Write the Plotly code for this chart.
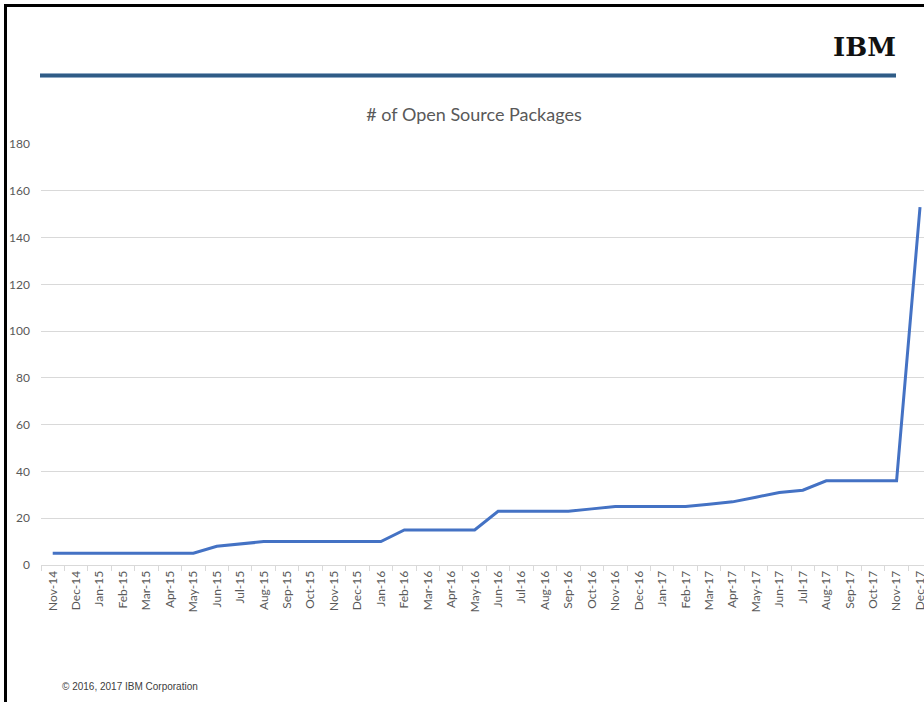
import plotly.graph_objects as go

months = ["Nov-14", "Dec-14", "Jan-15", "Feb-15", "Mar-15", "Apr-15", "May-15", "Jun-15",
          "Jul-15", "Aug-15", "Sep-15", "Oct-15", "Nov-15", "Dec-15", "Jan-16", "Feb-16",
          "Mar-16", "Apr-16", "May-16", "Jun-16", "Jul-16", "Aug-16", "Sep-16", "Oct-16",
          "Nov-16", "Dec-16", "Jan-17", "Feb-17", "Mar-17", "Apr-17", "May-17", "Jun-17",
          "Jul-17", "Aug-17", "Sep-17", "Oct-17", "Nov-17", "Dec-17"]
packages = [5, 5, 5, 5, 5, 5, 5, 8, 9, 10, 10, 10, 10, 10, 10, 15, 15, 15, 15, 23, 23, 23, 23,
            24, 25, 25, 25, 25, 26, 27, 29, 31, 32, 36, 36, 36, 36, 153]
y_ticks = [0, 20, 40, 60, 80, 100, 120, 140, 160, 180]

W, H = 924, 702
L, R, T, B = 41, 924, 144, 565


def px(x):
    return (x - L) / (R - L)


def py(y):
    return (B - y) / (B - T)


fig = go.Figure()
fig.add_trace(go.Scatter(
    x=months, y=packages, mode="lines",
    line=dict(color="#4472C4", width=3),
    hoverinfo="x+y", showlegend=False,
))

fig.update_layout(
    width=W, height=H,
    margin=dict(l=L, r=W - R, t=T, b=H - B, autoexpand=False),
    paper_bgcolor="white", plot_bgcolor="white",
    font=dict(family="Lato, Carlito, 'Open Sans', sans-serif", color="#595959"),
    title=dict(text="# of Open Source Packages", xref="container", yref="container",
               x=474 / W, y=1 - 115 / H, xanchor="center", yanchor="middle",
               font=dict(size=18, color="#595959", family="Lato, sans-serif")),
    xaxis=dict(
        type="category", range=[-0.5, 37.17],
        tickangle=-90, tickson="boundaries", ticks="outside", ticklen=5,
        tickcolor="#d9d9d9", showline=True, linecolor="#d9d9d9", linewidth=1,
        showgrid=False, tickfont=dict(size=12, color="#595959"), fixedrange=True,
    ),
    yaxis=dict(
        range=[0, 180], tickvals=y_ticks, showgrid=True, gridcolor="#d9d9d9",
        gridwidth=1, zeroline=False, showline=False, ticks="",
        ticklabelstandoff=10, tickfont=dict(size=12, color="#595959"), fixedrange=True,
    ),
    shapes=[
        # slide border (left and top)
        dict(type="line", xref="paper", yref="paper", x0=px(5.5), x1=px(5.5),
             y0=py(5.5), y1=py(710), line=dict(color="black", width=3), layer="above"),
        dict(type="line", xref="paper", yref="paper", x0=px(4), x1=px(930),
             y0=py(5.5), y1=py(5.5), line=dict(color="black", width=3), layer="above"),
        # header rule
        dict(type="line", xref="paper", yref="paper", x0=px(40), x1=px(896),
             y0=py(75.5), y1=py(75.5), line=dict(color="#8FA9C4", width=5), layer="above"),
        dict(type="line", xref="paper", yref="paper", x0=px(40), x1=px(896),
             y0=py(75.5), y1=py(75.5), line=dict(color="#2F5C86", width=3), layer="above"),
    ],
    annotations=[
        dict(text="<b>IBM</b>", xref="paper", yref="paper", x=px(864), y=py(46.5),
             xanchor="center", yanchor="middle", showarrow=False,
             font=dict(family="DejaVu Serif, serif", size=26, color="#111111")),
        dict(text="© 2016, 2017 IBM Corporation", xref="paper", yref="paper",
             x=px(60), y=py(686.5), xanchor="left", yanchor="middle", showarrow=False,
             font=dict(family="Liberation Sans, Arial, sans-serif", size=10, color="#404040")),
    ],
)

fig.write_html(
    "out.html",
    config={"displayModeBar": False},
    post_script="document.body.style.margin='0';document.body.style.overflow='hidden';",
)
